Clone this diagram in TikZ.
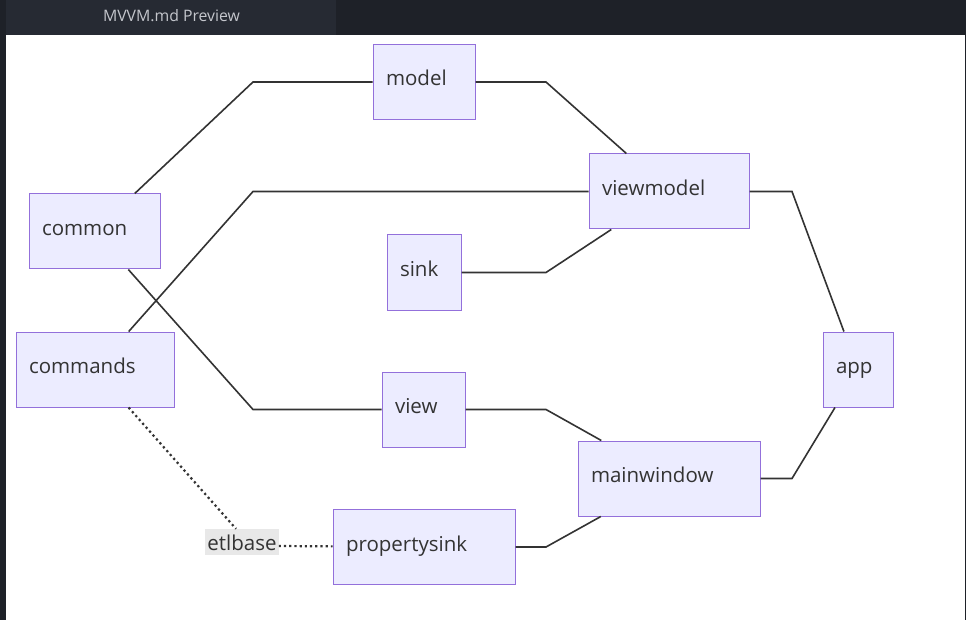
\documentclass[tikz,border=0pt]{standalone}
\usepackage{fontspec}
\setmainfont{Open Sans}
\usetikzlibrary{positioning}

\definecolor{boxfill}{HTML}{ECECFF}
\definecolor{boxline}{HTML}{9370DB}
\definecolor{textcol}{HTML}{333333}
\definecolor{lblfill}{HTML}{E8E8E8}
\definecolor{barcol}{HTML}{1E2128}
\definecolor{tabcol}{HTML}{262A33}
\definecolor{tabtext}{HTML}{C4C6CC}

\tikzset{
    box/.style={draw=boxline, fill=boxfill, line width=1pt, text=textcol,
        font=\fontsize{20.5}{24}\selectfont, text width=#1, align=left,
        minimum height=75pt, inner xsep=13pt, inner ysep=0pt,
        text height=14pt, text depth=6pt},
    link/.style={draw=textcol, line width=1.6pt},
    dotlink/.style={draw=textcol, line width=2.2pt, dash pattern=on 2.2pt off 3pt},
    lbl/.style={fill=lblfill, text=textcol, font=\fontsize{20.5}{24}\selectfont,
        inner xsep=2pt, inner ysep=0pt, text height=21pt, text depth=5pt}
}

\begin{document}
\begin{tikzpicture}[x=1pt, y=-1pt]
            \useasboundingbox (0, 0) rectangle (966, 620);
            \fill[white] (0, 0) rectangle (966, 620);
            \fill[barcol] (0, 0) rectangle (966, 35);
            \fill[tabcol] (6, 0) rectangle (336, 35);
            \fill[barcol] (0, 35) rectangle (6, 620);
            \fill[barcol] (964.5, 35) rectangle (966, 620);
            \node[text=tabtext, font=\fontsize{15.8}{18}\selectfont] (title) at (171.5, 16) {MVVM.md Preview};

            \node[box=76pt] (model) at (424, 82) {model};
            \node[box=134pt] (viewmodel) at (669, 191.5) {viewmodel};
            \node[box=105pt] (common) at (94.5, 231.5) {common};
            \node[box=48pt] (sink) at (424, 272.5) {sink};
            \node[box=132pt] (commands) at (95, 369.5) {commands};
            \node[box=44pt] (app) at (858, 369.5) {app};
            \node[box=57pt] (view) at (423.5, 409.5) {view};
            \node[box=156pt] (mainwindow) at (669, 478.5) {mainwindow};
            \node[box=156pt] (propertysink) at (424, 547) {propertysink};
            \node[lbl] (etlbase) at (242, 542) {etlbase};

            \draw [link] (common) -- (253, 82) -- (model);
            \draw [link] (model) -- (546, 82) -- (viewmodel);
            \draw [link] (commands) -- (253, 191.5) -- (viewmodel);
            \draw [link] (sink) -- (546, 272.5) -- (viewmodel);
            \draw [link] (viewmodel) -- (792, 191.5) -- (app);
            \draw [link] (common) -- (253, 409.5) -- (view);
            \draw [link] (view) -- (546, 409.5) -- (mainwindow);
            \draw [link] (mainwindow) -- (792, 478.5) -- (app);
            \draw [link] (propertysink) -- (546, 547) -- (mainwindow);
            \draw [dotlink] (commands) -- ([xshift=-6pt]etlbase.north);
            \draw [dotlink] ([yshift=-4pt]etlbase.east) -- (propertysink);
        \end{tikzpicture}
\end{document}
